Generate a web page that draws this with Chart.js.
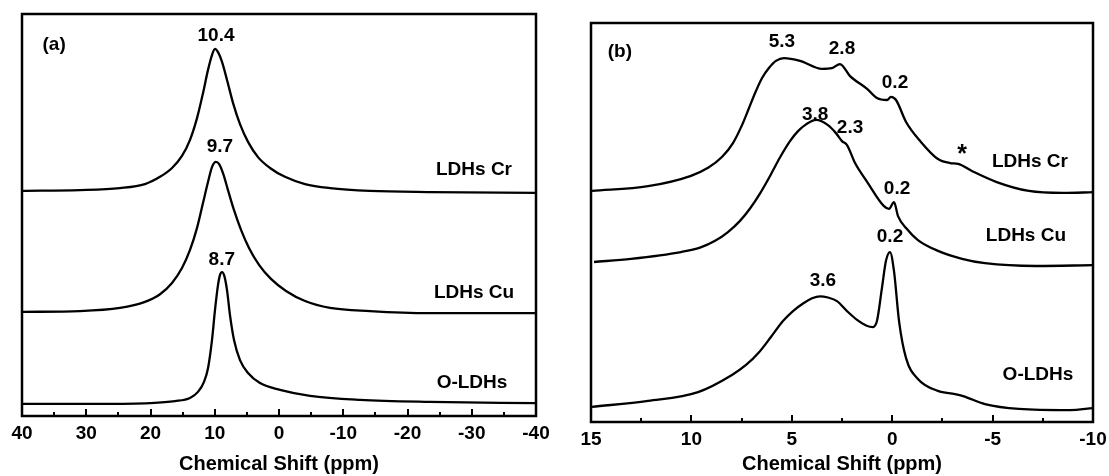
<!DOCTYPE html>
<html><head><meta charset="utf-8">
<script src="https://cdn.jsdelivr.net/npm/chart.js@4.4.1/dist/chart.umd.min.js"></script>
<style>
html,body{margin:0;padding:0;background:#fff;width:1109px;height:476px;overflow:hidden}
#ca{position:absolute;left:0;top:0}
#cb{position:absolute;left:560px;top:0}
</style></head><body>
<canvas id="ca" width="560" height="476"></canvas>
<canvas id="cb" width="549" height="476"></canvas>
<script>
// ---------- Panel (a) data: x = chemical shift (ppm), y = intensity (a.u., offset) ----------
const aCrPpm = [40.0,31.0,24.75,20.86,18.52,16.65,15.10,13.85,12.76,11.83,11.05,10.43,9.96,9.49,8.87,8.09,7.16,6.07,4.82,3.27,1.40,-0.93,-4.05,-7.94,-14.16,-23.5,-40];
const aCrInt = [56.0,56.2,56.7,57.7,59.5,61.7,64.7,68.7,74.1,80.3,86.1,89.8,91.3,90.5,88.1,83.6,77.9,72.6,68.2,64.4,61.7,59.5,57.7,56.7,56.0,55.7,55.5];

const aCuPpm = [40.0,31.0,24.75,20.86,18.52,16.65,15.10,13.85,12.76,11.83,11.05,10.43,9.81,9.34,8.72,7.94,7.00,5.91,4.67,3.11,1.25,-1.09,-4.05,-7.94,-14.16,-23.5,-40];
const aCuInt = [25.9,26.1,26.9,28.4,30.3,33.1,36.8,41.3,46.8,53.0,58.2,61.9,63.2,62.7,60.4,56.2,51.2,46.3,41.8,37.6,34.1,31.1,28.6,26.9,26.1,25.6,25.6];

const aOPpm = [40.0,27.86,20.08,16.19,13.85,12.61,11.67,11.05,10.43,9.96,9.49,9.2,8.87,8.5,8.09,7.63,7.00,6.07,4.82,2.96,-0.16,-4.83,-12.61,-23.5,-40];
const aOInt = [3.0,3.0,3.2,3.7,4.5,6.0,8.5,11.9,18.9,26.4,32.6,35.0,35.8,34.8,31.3,25.1,18.9,13.9,10.7,8.2,6.5,5.0,4.0,3.5,3.2];

const aTickLabels = [40,30,20,10,0,-10,-20,-30,-40];
const aMinorTicks = [35,25,15,5,-5,-15,-25,-35];

const aNoteText = ['(a)','10.4','9.7','8.7','LDHs Cr','LDHs Cu','O-LDHs'];
const aNoteX    = [35.0, 9.8, 9.2, 8.9, -30.35, -30.35, -30.04];
const aNoteY    = [92.3, 94.5, 66.9, 38.8, 61.2, 30.6, 8.2];

// ---------- Panel (b) data ----------
const bCrPpm = [14.95,12.16,10.02,9.17,8.48,7.93,7.48,7.13,6.78,6.48,6.14,5.79,5.39,4.59,3.50,3.00,2.60,2.10,1.25,0.76,0.26,0.06,-0.19,-0.69,-1.43,-2.28,-2.88,-3.28,-3.97,-5.17,-6.81,-8.51,-10];
const bCrInt = [57.9,59.1,61.7,63.7,66.4,69.9,74.4,78.7,83.0,86.2,88.7,90.5,91.2,90.5,88.5,88.7,89.7,86.7,83.5,81.2,80.7,81.5,80.7,75.2,70.2,65.9,64.9,64.7,62.9,60.2,57.9,57.4,57.6];

const bCuPpm = [14.85,13.01,10.52,9.57,8.82,8.18,7.58,7.08,6.58,6.09,5.59,5.09,4.69,4.29,3.79,3.20,2.80,2.50,2.25,1.85,1.25,0.41,0.16,-0.09,-0.29,-0.69,-1.28,-2.28,-3.48,-4.62,-7.16,-10];
const bCuInt = [40.1,40.9,42.6,43.7,45.4,47.6,50.4,53.5,57.3,61.6,66.3,70.4,72.9,74.6,75.7,74.4,72.4,70.4,69.4,64.9,60.2,54.1,53.4,55.1,51.6,48.6,45.6,42.9,40.9,39.8,39.1,39.3];

const bOPpm = [14.95,12.16,9.67,7.98,7.28,6.63,6.04,5.44,4.94,4.44,3.99,3.60,3.20,2.75,2.25,1.75,1.30,0.96,0.76,0.51,0.31,0.11,-0.09,-0.34,-0.69,-1.28,-2.28,-3.13,-3.53,-4.62,-6.31,-8.85,-10];
const bOInt = [3.8,5.3,7.5,11.8,14.3,17.5,21.3,25.3,27.8,29.7,31.0,31.5,31.2,30.3,27.8,25.6,24.2,23.8,25.3,33.6,40.4,42.6,37.8,25.3,16.0,10.8,7.8,7.0,6.5,4.5,3.3,3.0,3.5];

const bTickLabels = [15,10,5,0,-5,-10];
const bMinorTicks = [12.5,7.5,2.5,-2.5,-7.5];

const bNoteText = ['(b)','5.3','2.8','0.2','3.8','2.3','0.2','*','LDHs Cr','LDHs Cu','0.2','3.6','O-LDHs'];
const bNoteX    = [13.56, 5.49, 2.5, -0.14, 3.84, 2.1, -0.24, -3.48, -6.86, -6.66, 0.11, 3.45, -7.26];
const bNoteY    = [92.7, 95.2, 93.5, 85.0, 76.9, 73.7, 58.4, 67.0, 65.2, 46.6, 46.4, 35.3, 11.8];

// ---------- helpers ----------
const FONT = "'Liberation Sans', Arial, 'DejaVu Sans', sans-serif";
function pts(xs, ys){ return xs.map((x,i)=>({x:x, y:ys[i]})); }
function ds(xs, ys){
  return {data: pts(xs,ys), borderColor:'#000', borderWidth:2.3, pointRadius:0,
          fill:false, cubicInterpolationMode:'monotone', clip:false};
}

function makePanel(canvasId, series, xmin, xmax, labels, minors, notes, pad, axisH){
  const allTicks = labels.concat(minors).sort((a,b)=>a-b);
  const overlay = {
    id:'overlay',
    afterDraw(chart){
      const ctx = chart.ctx, a = chart.chartArea;
      const xs = chart.scales.x, ys = chart.scales.y;
      ctx.save();
      ctx.strokeStyle = '#000';
      ctx.lineWidth = 2;
      allTicks.forEach(v=>{
        const px = Math.round(xs.getPixelForValue(v));
        const len = labels.includes(v) ? 7 : 4;
        ctx.beginPath(); ctx.moveTo(px, a.bottom); ctx.lineTo(px, a.bottom-len); ctx.stroke();
      });
      ctx.lineWidth = 2.5;
      ctx.strokeRect(a.left, a.top, a.right-a.left, a.bottom-a.top);
      ctx.fillStyle = '#000';
      ctx.textAlign = 'center'; ctx.textBaseline = 'middle';
      notes.text.forEach((t,i)=>{
        ctx.font = 'bold ' + (t === '*' ? 25 : 19) + 'px ' + FONT;
        ctx.fillText(t, xs.getPixelForValue(notes.x[i]), ys.getPixelForValue(notes.y[i]));
      });
      ctx.restore();
    }
  };
  return new Chart(document.getElementById(canvasId), {
    type:'line',
    data:{datasets: series},
    options:{
      responsive:false, animation:false, devicePixelRatio:1,
      layout:{padding:pad},
      plugins:{legend:{display:false}, tooltip:{enabled:false}},
      scales:{
        x:{type:'linear', reverse:true, min:xmin, max:xmax,
           afterBuildTicks:(s)=>{ s.ticks = allTicks.map(v=>({value:v})); },
           afterFit:(s)=>{ s.height = axisH; },
           grid:{display:false, drawTicks:false}, border:{display:false},
           ticks:{autoSkip:false, maxRotation:0, color:'#000', padding:6,
                  font:{family:FONT, size:19, weight:'bold'},
                  callback:(v)=> labels.includes(v) ? String(v) : ''},
           title:{display:true, text:'Chemical Shift (ppm)', color:'#000',
                  padding:{top:0,bottom:0},
                  font:{family:FONT, size:20, weight:'bold'}}},
        y:{display:false, min:0, max:100}
      }
    },
    plugins:[overlay]
  });
}

makePanel('ca', [ds(aCrPpm,aCrInt), ds(aCuPpm,aCuInt), ds(aOPpm,aOInt)], -40, 40,
  aTickLabels, aMinorTicks, {text:aNoteText, x:aNoteX, y:aNoteY},
  {left:22, right:24, top:14, bottom:0}, 60);

makePanel('cb', [ds(bCrPpm,bCrInt), ds(bCuPpm,bCuInt), ds(bOPpm,bOInt)], -10, 15,
  bTickLabels, bMinorTicks, {text:bNoteText, x:bNoteX, y:bNoteY},
  {left:31, right:16, top:23, bottom:0}, 54);
</script>
</body></html>
